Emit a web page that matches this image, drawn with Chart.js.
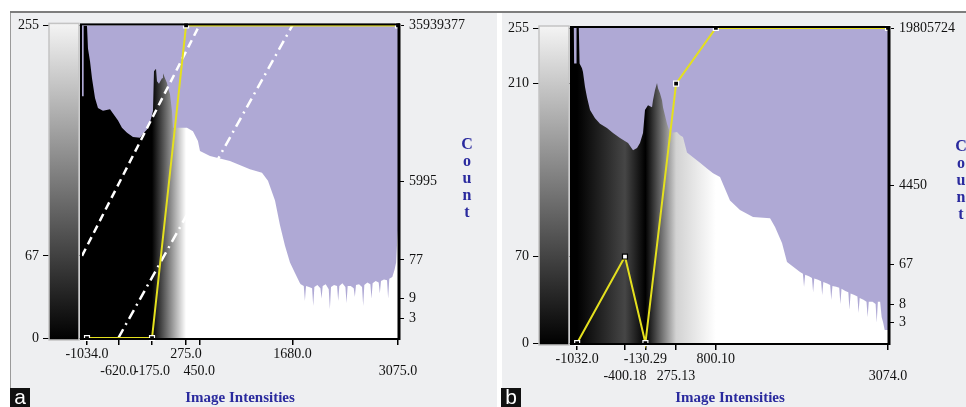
<!DOCTYPE html>
<html><head><meta charset="utf-8">
<script src="https://cdn.jsdelivr.net/npm/chart.js@4.4.1/dist/chart.umd.min.js"></script>
<style>
html,body{margin:0;padding:0;background:#fff;}
#wrap{position:relative;width:966px;height:407px;overflow:hidden;background:#fff;}
.panel{position:absolute;top:12px;height:395px;background:#eeeff1;}
#pa{left:10px;width:487px;border-left:1px solid #9a9a9a;box-sizing:border-box;}
#pb{left:502px;width:464px;}
#topline{position:absolute;left:10px;top:11px;width:956px;height:2px;background:#7d7d7d;}
canvas{position:absolute;top:12px;}
#ca{left:10px;}
#cb{left:502px;}
.tag{position:absolute;top:388px;width:20px;height:19px;background:#111;color:#fff;font:21px 'Liberation Sans',Arial,sans-serif;line-height:17px;text-align:center;}
</style>
</head><body>
<div id="wrap">
  <div class="panel" id="pa"></div>
  <div class="panel" id="pb"></div>
  <div id="topline"></div>
  <canvas id="ca" width="487" height="395"></canvas>
  <canvas id="cb" width="464" height="395"></canvas>
  <div class="tag" style="left:10px">a</div>
  <div class="tag" style="left:501px">b</div>
</div>
<script>
// ---------- Panel a data ----------
const aXTicks = [-1034, -620, -175, 275, 450, 1680, 3075];
const aXTickLabels = ['-1034.0', '-620.0', '-175.0', '275.0', '450.0', '1680.0', '3075.0'];
const aXTickRows = [0, 1, 1, 0, 1, 0, 1];
const aGrayTicks = [0, 67, 255];
const aCountTicks = [3, 9, 77, 5995, 35939377];
const aHistX = [-1100, -1082, -1078, -1034, -1021, -994, -968, -928, -889, -823, -730, -664, -624, -572, -505, -426, -334, -294, -241, -202, -162, -149, -122, -109, -83, -43, -30, -4, 23, 36, 62, 89, 102, 128, 287, 366, 432, 459, 591, 855, 1119, 1278, 1357, 1450, 1516, 1582, 1648, 1714, 1780,
  1790, 1830, 1845, 1860, 1900, 1940, 1955, 1970, 2010, 2050, 2065, 2080, 2120, 2160, 2175, 2190, 2230, 2270, 2285, 2300, 2340, 2380, 2395, 2410, 2450, 2490, 2505, 2520, 2560, 2600, 2615, 2630, 2670, 2710, 2725, 2740, 2780, 2820, 2835, 2850, 2890, 2930, 2945, 2960, 3000, 3030, 3050, 3065, 3075];
const aHistCount = [7.0e5, 7.0e5, 35939377, 35939377, 1.0e7, 4.9e6, 1.9e6, 6.3e5, 3.6e5, 3.1e5, 3.4e5, 2.3e5, 1.8e5, 1.2e5, 9.1e4, 7.2e4, 6.9e4, 8.6e4, 1.1e5, 1.6e5, 3.1e5, 2.8e6, 3.2e6, 1.6e6, 1.4e6, 1.9e6, 2.5e6, 1.9e6, 1.45e6, 1.1e6, 7.9e5, 3.1e5, 1.2e5, 1.2e5, 1.2e5, 1.0e5, 5.8e4, 3.3e4, 2.5e4, 1.9e4, 1.2e4, 9.8e3, 6.3e3, 2.1e3, 530, 170, 67, 37, 21,
  20, 18, 8, 18, 17, 16, 6, 17, 19, 16, 9, 18, 20, 15, 5, 17, 19, 18, 8, 18, 21, 17, 7, 18, 18, 16, 10, 19, 20, 17, 6, 19, 22, 20, 9, 21, 24, 22, 12, 24, 26, 25, 9, 27, 30, 45, 67, 230, 400];
const aTransferX = [-1034, -175, 275, 3075];
const aTransferY = [0, 0, 255, 255];
const aTransferHollow = [0, 0, 0, 0];
const aDashedX = [-1100, 450];
const aDashedY = [67, 255];
const aDashDotX = [-620, 1680];
const aDashDotY = [0, 255];

// ---------- Panel b data ----------
const bXTicks = [-1032, -400.18, -130.29, 275.13, 800.10, 3074];
const bXTickLabels = ['-1032.0', '-400.18', '-130.29', '275.13', '800.10', '3074.0'];
const bXTickRows = [0, 1, 0, 1, 0, 1];
const bGrayTicks = [0, 70, 210, 255];
const bCountTicks = [3, 8, 67, 4450, 19805724];
const bHistX = [-1100, -1076, -1072, -1044, -1040, -1010, -1000, -968, -955, -928, -902, -862, -796, -730, -638, -558, -466, -360, -294, -241, -202, -162, -136, -96, -43, -30, -4, 23, 36, 62, 89, 102, 155, 195, 287, 327, 366, 419, 498, 591, 683, 763, 855, 987, 1119, 1291, 1516, 1582, 1674, 1740, 1912,
  1950, 1965, 1980, 2030, 2070, 2085, 2100, 2150, 2190, 2205, 2220, 2270, 2310, 2325, 2340, 2390, 2430, 2445, 2460, 2510, 2550, 2565, 2580, 2630, 2670, 2685, 2700, 2750, 2790, 2805, 2820, 2870, 2910, 2925, 2940, 2970, 2990, 3010, 3030, 3050, 3074];
const bHistCount = [19805724, 19805724, 3.0e6, 3.0e6, 19805724, 19805724, 3.0e6, 2.3e6, 1.9e6, 8.5e5, 4.9e5, 2.5e5, 1.6e5, 1.2e5, 9.5e4, 7.3e4, 5.6e4, 4.3e4, 2.9e4, 3.3e4, 4.3e4, 7.3e4, 2.5e5, 3.2e5, 2.9e5, 4.2e5, 7.2e5, 1.05e6, 8.0e5, 6.1e5, 4.2e5, 2.9e5, 1.2e5, 7.3e4, 7.7e4, 6.5e4, 5.9e4, 2.6e4, 2.0e4, 1.5e4, 1.1e4, 8.6e3, 7.0e3, 2.0e3, 1.2e3, 830, 780, 485, 206, 75, 44,
  40, 20, 38, 35, 32, 15, 31, 29, 27, 13, 26, 24, 22, 10, 21, 20, 19, 8, 18, 16, 15, 6, 14, 13, 12, 5, 11, 10, 9, 4, 9, 9, 8, 3, 9, 9, 4, 3, 2, 2, 2];
const bTransferX = [-1032, -400.18, -130.29, 275.13, 800.10, 3074];
const bTransferY = [0, 70, 0, 210, 255, 255];
const bTransferHollow = [0, 1, 0, 0, 0, 0];

Chart.defaults.font.family = "'Liberation Serif', 'Times New Roman', serif";
Chart.defaults.color = '#111';

const LAVENDER = '#afa9d5';
const YELLOW = '#e4e01e';
const TITLE_BLUE = '#2a2a9e';

function buildChart(id, p) {
  const grayGradient = (context) => {
    const chart = context.chart;
    const area = chart.chartArea;
    if (!area) return '#000';
    const xs = chart.scales.x;
    const g = chart.ctx.createLinearGradient(area.left, 0, area.right, 0);
    p.tfX.forEach((v, i) => {
      let t = (xs.getPixelForValue(v) - area.left) / area.width;
      t = Math.max(0, Math.min(1, t));
      const c = Math.round(p.tfY[i]);
      g.addColorStop(t, `rgb(${c},${c},${c})`);
    });
    return g;
  };

  const datasets = [
    {
      label: 'Transfer function',
      data: p.tfX.map((x, i) => ({ x, y: p.tfY[i] })),
      yAxisID: 'yg',
      borderColor: YELLOW,
      borderWidth: 2,
      tension: 0,
      pointStyle: 'rect',
      pointRadius: 3.5,
      pointBackgroundColor: p.tfHollow.map(h => h ? '#ffffff' : '#000000'),
      pointBorderColor: p.tfHollow.map(h => h ? '#000000' : '#ffffff'),
      pointBorderWidth: 1.2,
      clip: false,
      order: 1
    }
  ];
  if (p.dashedX) {
    datasets.push({
      label: 'Dashed',
      data: p.dashedX.map((x, i) => ({ x, y: p.dashedY[i] })),
      yAxisID: 'yg', borderColor: '#ffffff', borderWidth: 2.5, borderDash: [8, 5],
      pointRadius: 0, tension: 0, order: 2
    });
    datasets.push({
      label: 'DashDot',
      data: p.dashDotX.map((x, i) => ({ x, y: p.dashDotY[i] })),
      yAxisID: 'yg', borderColor: '#ffffff', borderWidth: 2.5, borderDash: [10, 5, 2, 5],
      pointRadius: 0, tension: 0, order: 2
    });
  }
  datasets.push({
    label: 'Histogram',
    data: p.histX.map((x, i) => ({ x, y: p.histY[i] })),
    yAxisID: 'yc',
    borderWidth: 0,
    borderColor: 'rgba(0,0,0,0)',
    pointRadius: 0,
    tension: 0,
    fill: 'start',
    backgroundColor: grayGradient,
    order: 5
  });

  const decor = {
    id: 'decor' + id,
    beforeDatasetsDraw(chart) {
      const { ctx, chartArea: a } = chart;
      ctx.save();
      ctx.fillStyle = LAVENDER;
      ctx.fillRect(a.left, a.top, a.width, a.height);
      ctx.restore();
    },
    afterDraw(chart) {
      const { ctx, chartArea: a } = chart;
      const yg = chart.scales.yg;
      ctx.save();
      // frame
      ctx.strokeStyle = '#000';
      ctx.lineWidth = 2;
      ctx.strokeRect(a.left - 1, a.top - 1, a.width + 2, a.height + 2);
      ctx.lineWidth = 3;
      ctx.beginPath();
      ctx.moveTo(a.right + 1, a.top - 2);
      ctx.lineTo(a.right + 1, a.bottom + 2);
      ctx.stroke();
      // colour bar (grey level key)
      const y0 = yg.getPixelForValue(0) + 2;
      const y1 = yg.getPixelForValue(255) - 2;
      const bx = a.left - 33, bw = 30;
      const g = ctx.createLinearGradient(0, y0, 0, y1);
      g.addColorStop(0, '#000');
      g.addColorStop(1, '#f4f4f4');
      ctx.fillStyle = g;
      ctx.fillRect(bx, y1, bw, y0 - y1);
      ctx.strokeStyle = '#c4c4c4';
      ctx.lineWidth = 1.5;
      ctx.strokeRect(bx, y1, bw, y0 - y1);
      // vertical axis title
      ctx.fillStyle = TITLE_BLUE;
      ctx.font = "bold 16px 'Liberation Serif', serif";
      ctx.textAlign = 'center';
      ctx.textBaseline = 'middle';
      const letters = 'Count'.split('');
      letters.forEach((ch, i) => {
        ctx.fillText(ch, a.right + p.countDX, a.top + 119 + i * 17);
      });
      ctx.restore();
    }
  };

  return new Chart(document.getElementById(id), {
    type: 'line',
    data: { datasets },
    options: {
      responsive: false,
      animation: false,
      devicePixelRatio: 1,
      layout: { padding: { top: p.padTop, left: 0, right: 0, bottom: 0 } },
      plugins: { legend: { display: false }, tooltip: { enabled: false } },
      scales: {
        x: {
          type: 'linear', position: 'bottom', min: p.xMin, max: p.xMax,
          afterBuildTicks: s => { s.ticks = p.xTicks.map(v => ({ value: v })); },
          afterFit: s => { s.height = p.xAxisH; },
          ticks: {
            autoSkip: false, maxRotation: 0, minRotation: 0, padding: 1,
            color: '#111', font: { size: 14 },
            callback: (v, i) => p.xTickRows[i] ? ['', p.xTickLabels[i]] : [p.xTickLabels[i]]
          },
          grid: { display: true, drawOnChartArea: false, drawTicks: true, tickLength: 7, color: '#000', lineWidth: 1.5 },
          border: { display: false },
          title: { display: true, text: 'Image Intensities', color: TITLE_BLUE, font: { size: 15, weight: 'bold' }, padding: { top: 0, bottom: 0 } }
        },
        yg: {
          type: 'linear', position: 'left', min: 0, max: 255,
          afterBuildTicks: s => { s.ticks = p.grayTicks.map(v => ({ value: v })); },
          afterFit: s => { s.width = p.leftW; },
          ticks: { padding: 4, color: '#111', font: { size: 14 }, callback: v => String(v) },
          grid: { display: true, drawOnChartArea: false, drawTicks: true, tickLength: 39, color: '#000', lineWidth: 1 },
          border: { display: false }
        },
        yc: {
          type: 'logarithmic', position: 'right', min: 1, max: p.countMax,
          afterBuildTicks: s => { s.ticks = p.countTicks.map(v => ({ value: v })); },
          afterFit: s => { s.width = p.rightW; },
          ticks: { padding: 5, color: '#111', font: { size: 14 }, callback: v => String(v) },
          grid: { display: true, drawOnChartArea: false, drawTicks: true, tickLength: 6, color: '#000', lineWidth: 1 },
          border: { display: false }
        }
      }
    },
    plugins: [decor]
  });
}

buildChart('ca', {
  xMin: -1100, xMax: 3075, xTicks: aXTicks, xTickLabels: aXTickLabels, xTickRows: aXTickRows,
  grayTicks: aGrayTicks, countTicks: aCountTicks, countMax: 35939377,
  histX: aHistX, histY: aHistCount, tfX: aTransferX, tfY: aTransferY, tfHollow: aTransferHollow,
  dashedX: aDashedX, dashedY: aDashedY, dashDotX: aDashDotX, dashDotY: aDashDotY,
  padTop: 12, leftW: 72, rightW: 99, xAxisH: 69, countDX: 69
});
buildChart('cb', {
  xMin: -1100, xMax: 3074, xTicks: bXTicks, xTickLabels: bXTickLabels, xTickRows: bXTickRows,
  grayTicks: bGrayTicks, countTicks: bCountTicks, countMax: 19805724,
  histX: bHistX, histY: bHistCount, tfX: bTransferX, tfY: bTransferY, tfHollow: bTransferHollow,
  padTop: 16, leftW: 70, rightW: 78, xAxisH: 64, countDX: 73
});
</script>
</body></html>
